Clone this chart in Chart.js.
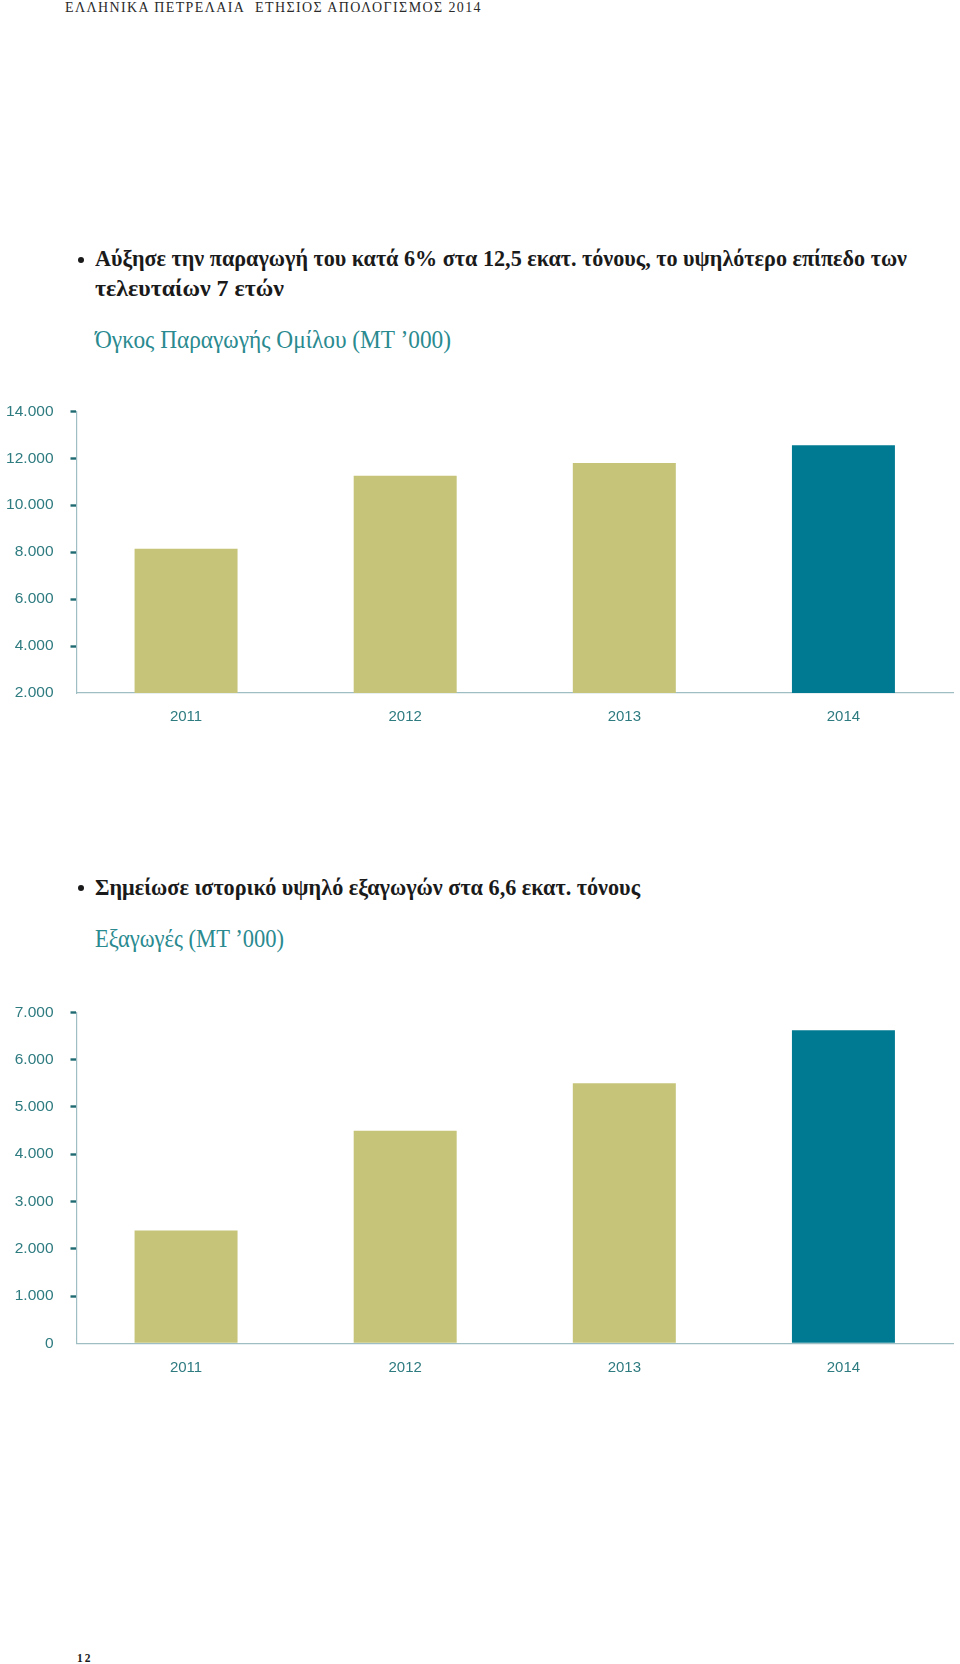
<!DOCTYPE html>
<html>
<head>
<meta charset="utf-8">
<script src="https://cdn.jsdelivr.net/npm/chart.js@4.4.1/dist/chart.umd.min.js"></script>
<style>
  html, body { margin: 0; padding: 0; background: #ffffff; }
  body { width: 960px; height: 1664px; position: relative; overflow: hidden; }
  .t { position: absolute; white-space: nowrap; line-height: 1; transform-origin: 0 0; }
  .hdr { font-family: "Liberation Serif", "DejaVu Serif", serif; font-size: 14px; letter-spacing: 1.4px; color: #2a2a2a; }
  .bul { font-family: "Liberation Serif", "DejaVu Serif", serif; font-weight: bold; font-size: 24px; color: #1a1a1a; }
  .sub { font-family: "Liberation Serif", "DejaVu Serif", serif; font-size: 25px; color: #2a8a8f; }
  .pg { font-family: "Liberation Serif", "DejaVu Serif", serif; font-weight: bold; font-size: 11.5px; letter-spacing: 2px; color: #1a1a1a; }
  .dot { position: absolute; width: 6px; height: 6px; border-radius: 50%; background: #1a1a1a; }
  canvas { position: absolute; left: 0; }
</style>
</head>
<body>
<div class="t hdr" style="left:65px; top:1px;" data-w="417">ΕΛΛΗΝΙΚΑ ΠΕΤΡΕΛΑΙΑ&nbsp; ΕΤΗΣΙΟΣ ΑΠΟΛΟΓΙΣΜΟΣ 2014</div>

<div class="dot" style="left:78px; top:257px;"></div>
<div class="t bul" style="left:95px; top:246px;" data-w="812">Αύξησε την παραγωγή του κατά 6% στα 12,5 εκατ. τόνους, το υψηλότερο επίπεδο των</div>
<div class="t bul" style="left:95px; top:276px;" data-w="189">τελευταίων 7 ετών</div>
<div class="t sub" style="left:95px; top:327px;" data-w="356">Όγκος Παραγωγής Ομίλου (ΜΤ ’000)</div>

<canvas id="c1" width="960" height="351" style="top:385px;"></canvas>

<div class="dot" style="left:78px; top:885px;"></div>
<div class="t bul" style="left:95px; top:875px;" data-w="545">Σημείωσε ιστορικό υψηλό εξαγωγών στα 6,6 εκατ. τόνους</div>
<div class="t sub" style="left:95px; top:926px;" data-w="189">Εξαγωγές (ΜΤ ’000)</div>

<canvas id="c2" width="960" height="399" style="top:986px;"></canvas>

<div class="t pg" style="left:77px; top:1653px;">12</div>

<script>
// ---- data ----
const years = ['2011', '2012', '2013', '2014'];
const productionValues = [8150, 11250, 11800, 12550];
const exportValues = [2385, 4495, 5500, 6620];
const barColors = ['#c5c478', '#c5c478', '#c5c478', '#007a92'];
const productionTickValues = [2000, 4000, 6000, 8000, 10000, 12000, 14000];
const productionTickLabels = ['2.000', '4.000', '6.000', '8.000', '10.000', '12.000', '14.000'];
const exportTickValues = [0, 1000, 2000, 3000, 4000, 5000, 6000, 7000];
const exportTickLabels = ['0', '1.000', '2.000', '3.000', '4.000', '5.000', '6.000', '7.000'];

// ---- fit text widths ----
document.querySelectorAll('[data-w]').forEach(el => {
  const w = el.getBoundingClientRect().width;
  const target = parseFloat(el.getAttribute('data-w'));
  if (w > 0) el.style.transform = 'scaleX(' + (target / w) + ')';
});

const labelColor = '#2e7b80';
const tickMarkColor = '#1f6a72';
const axisColor = '#9fbec4';

function makeChart(id, values, tickValues, tickLabels, yMin, yMax, step, padTop, xHeight, xPad) {
  new Chart(document.getElementById(id), {
    type: 'bar',
    data: {
      labels: years,
      datasets: [{
        data: values,
        backgroundColor: barColors,
        borderWidth: 0,
        barPercentage: 0.47,
        categoryPercentage: 1.0
      }]
    },
    options: {
      responsive: false,
      animation: false,
      devicePixelRatio: 1,
      layout: { padding: { top: padTop, right: 7, bottom: 0, left: 0 } },
      plugins: { legend: { display: false }, tooltip: { enabled: false } },
      scales: {
        x: {
          grid: { display: false },
          border: { display: true, color: axisColor, width: 1.2 },
          ticks: {
            color: labelColor,
            padding: xPad,
            font: { family: 'Liberation Sans', size: 15 }
          },
          afterFit: s => { s.height = xHeight; }
        },
        y: {
          min: yMin,
          max: yMax,
          grid: {
            display: true,
            drawOnChartArea: false,
            drawTicks: true,
            tickLength: 6,
            tickWidth: 2.4,
            tickColor: ctx => (ctx.tick && ctx.tick.value === yMin) ? 'rgba(0,0,0,0)' : tickMarkColor
          },
          border: { display: true, color: axisColor, width: 1.2 },
          ticks: {
            stepSize: step,
            padding: 17,
            color: labelColor,
            font: { family: 'Liberation Sans', size: 15.5 },
            callback: v => {
              const i = tickValues.indexOf(v);
              return i >= 0 ? tickLabels[i] : '';
            }
          },
          afterFit: s => { s.width = 76.5; }
        }
      }
    }
  });
}

makeChart('c1', productionValues, productionTickValues, productionTickLabels, 2000, 14000, 2000, 4.9, 43, 6.6);
makeChart('c2', exportValues, exportTickValues, exportTickLabels, 0, 7000, 1000, 7.2, 41.7, 8);
</script>
</body>
</html>
